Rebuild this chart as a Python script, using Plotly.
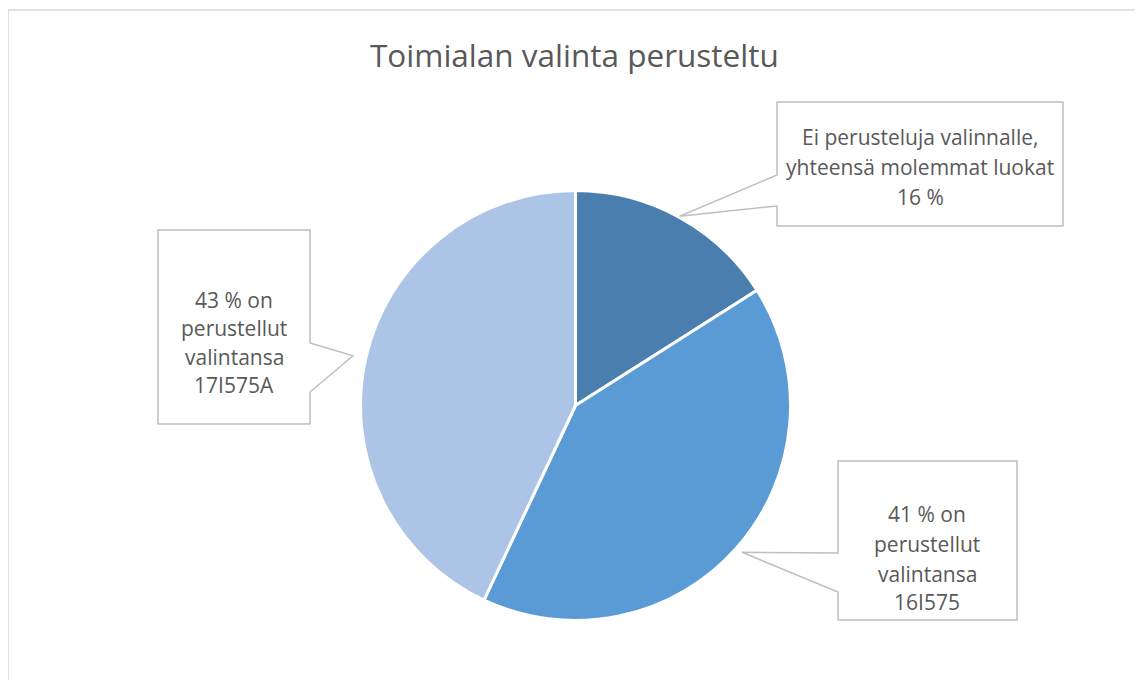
import math
import plotly.graph_objects as go

# ---- data ----
categories = ["Ei perusteluja valinnalle, yhteensä molemmat luokat",
              "On perustellut valintansa 16I575",
              "On perustellut valintansa 17I575A"]
values = [16, 41, 43]
colors = ["#4A7EAF", "#5B9BD5", "#ACC5E6"]
label_lines = [
    ["Ei perusteluja valinnalle,", "yhteensä molemmat luokat", "16 %"],
    ["41 % on", "perustellut", "valintansa", "16I575"],
    ["43 % on", "perustellut", "valintansa", "17I575A"],
]
title_text = "Toimialan valinta perusteltu"

# ---- layout geometry (screen pixels; page has an 8px body margin) ----
W, H = 1143, 680
OFF = 8
CX, CY, R = 575.5, 405.5, 215.0
TXT = "#595959"
FONT = "Open Sans"

def px(x):
    return (x - OFF) / W

def py(y):
    return 1 - (y - OFF) / H

fig = go.Figure()
fig.add_trace(go.Pie(
    labels=categories, values=values, sort=False, direction="clockwise",
    rotation=0, marker=dict(colors=colors, line=dict(color="white", width=3)),
    textinfo="none", hoverinfo="label+percent", showlegend=False,
    domain=dict(x=[px(CX - R), px(CX + R)], y=[py(CY + R), py(CY - R)]),
))

# callout tips derived from slice mid-angles
total = sum(values)
cum = 0
tips = []
for i, v in enumerate(values):
    mid = (cum + v / 2) / total * 2 * math.pi
    cum += v
    rr = [R + 1, R + 7, R + 13][i]
    tips.append((CX + rr * math.sin(mid), CY - rr * math.cos(mid)))

def path(points):
    return "M " + " L ".join(f"{px(x):.5f},{py(y):.5f}" for x, y in points) + " Z"

boxes = [
    ([(777, 102), (1063, 102), (1063, 226), (777, 226), (777, 206), tips[0], (777, 175)],
     920, [137, 167, 197]),
    ([(838, 461), (1017, 461), (1017, 620), (838, 620), (838, 592), tips[1], (838, 553)],
     927, [514, 544, 574, 602]),
    ([(158, 230), (310, 230), (310, 343), tips[2], (310, 392), (310, 424), (158, 424)],
     234, [300, 328, 357, 385]),
]

shapes = [dict(type="rect", xref="paper", yref="paper", x0=px(8), x1=px(1141),
               y0=py(700), y1=py(10), line=dict(color="#D9D9D9", width=1.5),
               fillcolor="rgba(0,0,0,0)", layer="below")]
annotations = [dict(text=title_text, x=px(574), y=py(55), xref="paper", yref="paper",
                    showarrow=False, font=dict(family=FONT, size=31.5, color=TXT),
                    xanchor="center", yanchor="middle")]
for (pts, lx, lys), lines in zip(boxes, label_lines):
    shapes.append(dict(type="path", xref="paper", yref="paper", path=path(pts),
                       line=dict(color="#BFBFBF", width=1.5), fillcolor="white"))
    for t, ly in zip(lines, lys):
        annotations.append(dict(text=t, x=px(lx), y=py(ly), xref="paper", yref="paper",
                                showarrow=False, xanchor="center", yanchor="middle",
                                font=dict(family=FONT, size=21, color=TXT)))

fig.update_layout(
    width=W, height=H, margin=dict(l=0, r=0, t=0, b=0),
    paper_bgcolor="white", plot_bgcolor="white",
    shapes=shapes, annotations=annotations,
)
fig.write_html("out.html")
